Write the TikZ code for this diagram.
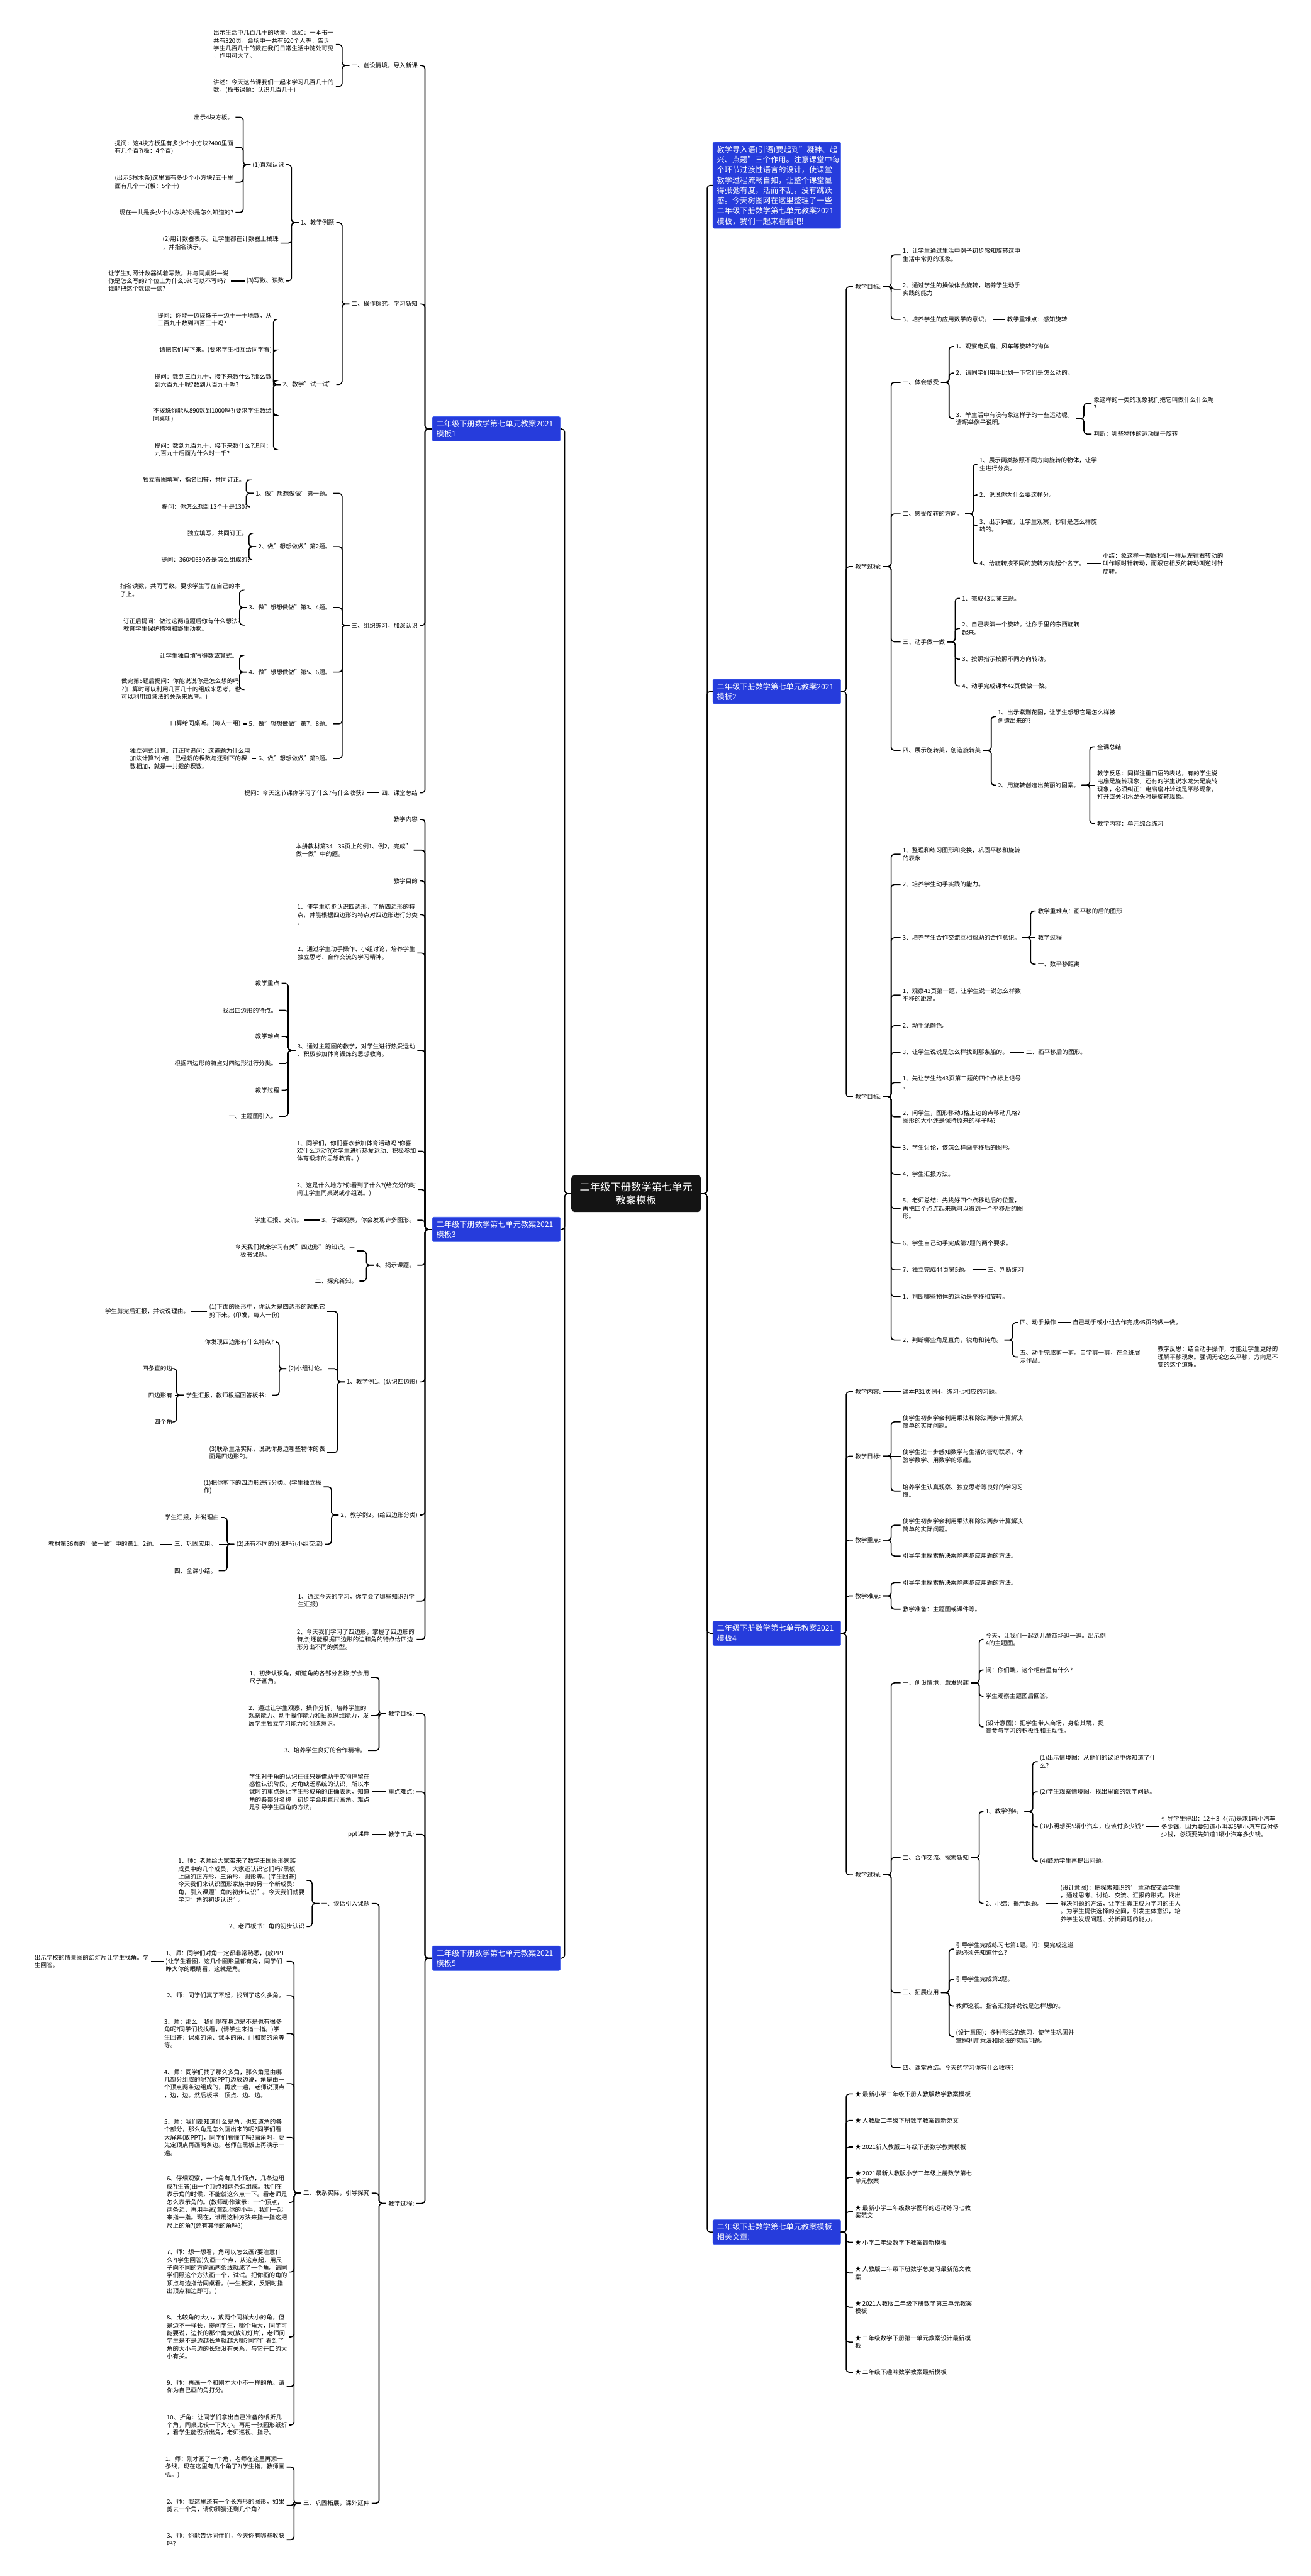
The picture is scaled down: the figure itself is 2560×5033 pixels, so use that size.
\documentclass[tikz,border=0pt]{standalone}
\usepackage{fontspec}
\setmainfont{Noto Sans CJK SC}
\definecolor{boxblue}{RGB}{38,60,220}
\definecolor{boxedge}{RGB}{70,100,240}
% 左侧：父节点在右，子节点在左
\newcommand{\lbranch}[2]{\foreach \n in {#2} \draw[lk] (#1.west) -- ++(-14,0) |- (\n.east);}
\newcommand{\lstraight}[2]{\draw[lk] (#1.west) -- (#2.east);}
% 右侧：父节点在左，子节点在右
\newcommand{\rbranch}[2]{\foreach \n in {#2} \draw[lk] (#1.east) -- ++(16,0) |- (\n.west);}
\newcommand{\rstraight}[2]{\draw[lk] (#1.east) -- (#2.west);}
\begin{document}
\begin{tikzpicture}[x=1pt, y=-1pt,
  leaf/.style={font=\fontsize{11.75}{15.2}\selectfont, align=left, inner sep=4pt},
  ln/.style={leaf, anchor=east},
  rn/.style={leaf, anchor=west},
  bbox/.style={fill=boxblue, draw=boxedge, line width=0.8pt, rounded corners=3pt, text=white,
    font=\fontsize{15}{20}\selectfont, align=left, text width=234pt, inner xsep=8pt, inner ysep=7pt, anchor=west},
  cbox/.style={fill=black!92, rounded corners=6pt, text=white, font=\fontsize{20}{26}\selectfont,
    align=center, minimum width=253pt, minimum height=72pt},
  lk/.style={line width=2pt, rounded corners=6pt}]
\fill[white] (0,0) rectangle (2560,5033);
\useasboundingbox (0,0) rectangle (2560,5033);

% 中心
\node[cbox] (ctr) at (1242.5,2332) {二年级下册数学第七单元\\教案模板};

% 一级分支
\node[bbox] (m0) at (1392,362) {教学导入语(引语)要起到"凝神、起\\兴、点题"三个作用。注意课堂中每\\个环节过渡性语言的设计，使课堂\\教学过程流畅自如，让整个课堂显\\得张弛有度，活而不乱，没有跳跃\\感。今天树图网在这里整理了一些\\二年级下册数学第七单元教案2021\\模板，我们一起来看看吧!};
\node[bbox] (m1) at (844,838) {二年级下册数学第七单元教案2021\\模板1};
\node[bbox] (m2) at (1392,1351) {二年级下册数学第七单元教案2021\\模板2};
\node[bbox] (m3) at (844,2402) {二年级下册数学第七单元教案2021\\模板3};
\node[bbox] (m4) at (1392,3191) {二年级下册数学第七单元教案2021\\模板4};
\node[bbox] (m5) at (844,3826) {二年级下册数学第七单元教案2021\\模板5};
\node[bbox] (m6) at (1392,4361) {二年级下册数学第七单元教案模板\\相关文章:};
\foreach \n in {m1,m3,m5} \draw[lk] (ctr.west) -- ++(-13,0) |- (\n.east);
\foreach \n in {m0,m2,m4,m6} \draw[lk] (ctr.east) -- ++(12,0) |- (\n.west);

% 模板1
\node[ln] (p1a) at (820,128) {一、创设情境，导入新课};
\node[ln] (p1a1) at (656,87) {出示生活中几百几十的场景，比如：一本书一\\共有320页，会场中一共有920个人等，告诉\\学生几百几十的数在我们日常生活中随处可见\\，作用可大了。};
\node[ln] (p1a2) at (656,169) {讲述：今天这节课我们一起来学习几百几十的\\数。(板书课题：认识几百几十)};
\node[ln] (p1b) at (820,594) {二、操作探究，学习新知};
\node[ln] (p1b1) at (657,435) {1、教学例题};
\node[ln] (p1b1a) at (559,322) {(1)直观认识};
\node[ln] (p1b1a1) at (460,229) {出示4块方板。};
\node[ln] (p1b1a2) at (460,288) {提问：这4块方板里有多少个小方块?400里面\\有几个百?(板：4个百)};
\node[ln] (p1b1a3) at (460,356) {(出示5根木条)这里面有多少个小方块?五十里\\面有几个十?(板：5个十)};
\node[ln] (p1b1a4) at (460,415) {现在一共是多少个小方块?你是怎么知道的?};
\node[ln] (p1b1b) at (548,475) {(2)用计数器表示。让学生都在计数器上拨珠\\，并指名演示。};
\node[ln] (p1b1c) at (559,549) {(3)写数、读数};
\node[ln] (p1b1c1) at (451,549) {让学生对照计数器试着写数，并与同桌说一说\\你是怎么写的?个位上为什么0?0可以不写吗?\\谁能把这个数读一读?};
\node[ln] (p1b2) at (657,751) {2、教学"试一试"};
\node[ln] (p1b2a) at (535,624) {提问：你能一边拨珠子一边十一十地数，从\\三百九十数到四百三十吗?};
\node[ln] (p1b2b) at (535,684) {请把它们写下来。(要求学生相互给同学看)};
\node[ln] (p1b2c) at (535,744) {提问：数到三百九十，接下来数什么?那么数\\到六百九十呢?数到八百九十呢?};
\node[ln] (p1b2d) at (535,811) {不拨珠你能从890数到1000吗?(要求学生数给\\同桌听)};
\node[ln] (p1b2e) at (535,878) {提问：数到九百九十，接下来数什么?追问：\\九百九十后面为什么时一千?};
\node[ln] (p1c) at (820,1222) {三、组织练习，加深认识};
\node[ln] (p1c1) at (651,964) {1、做"想想做做"第一题。};
\node[ln] (p1c1a) at (483,938) {独立看图填写，指名回答，共同订正。};
\node[ln] (p1c1b) at (488,990) {提问：你怎么想到13个十是130?};
\node[ln] (p1c2) at (651,1068) {2、做"想想做做"第2题。};
\node[ln] (p1c2a) at (488,1042) {独立填写，共同订正。};
\node[ln] (p1c2b) at (493,1094) {提问：360和630各是怎么组成的?};
\node[ln] (p1c3) at (651,1187) {3、做"想想做做"第3、4题。};
\node[ln] (p1c3a) at (474,1153) {指名读数，共同写数。要求学生写在自己的本\\子上。};
\node[ln] (p1c3b) at (474,1221) {订正后提问：做过这两道题后你有什么想法?\\教育学生保护植物和野生动物。};
\node[ln] (p1c4) at (651,1313) {4、做"想想做做"第5、6题。};
\node[ln] (p1c4a) at (469,1281) {让学生独自填写得数或算式。};
\node[ln] (p1c4b) at (474,1347) {做完第5题后提问：你能说说你是怎么想的吗\\?(口算时可以利用几百几十的组成来思考，也\\可以利用加减法的关系来思考。)};
\node[ln] (p1c5) at (651,1414) {5、做"想想做做"第7、8题。};
\node[ln] (p1c5a) at (474,1414) {口算给同桌听。(每人一组)};
\node[ln] (p1c6) at (651,1482) {6、做"想想做做"第9题。};
\node[ln] (p1c6a) at (493,1482) {独立列式计算。订正时追问：这道题为什么用\\加法计算?小结：已经栽的棵数与还剩下的棵\\数相加，就是一共栽的棵数。};
\node[ln] (p1d) at (820,1549) {四、课堂总结};
\node[ln] (p1d1) at (716,1549) {提问：今天这节课你学习了什么?有什么收获?};
\lbranch{m1}{p1a,p1b,p1c,p1d}
\lbranch{p1a}{p1a1,p1a2}
\lbranch{p1b}{p1b1,p1b2}
\lbranch{p1b1}{p1b1a,p1b1b,p1b1c}
\lbranch{p1b1a}{p1b1a1,p1b1a2,p1b1a3,p1b1a4}
\lstraight{p1b1c}{p1b1c1}
\lbranch{p1b2}{p1b2a,p1b2b,p1b2c,p1b2d,p1b2e}
\lbranch{p1c}{p1c1,p1c2,p1c3,p1c4,p1c5,p1c6}
\lbranch{p1c1}{p1c1a,p1c1b}
\lbranch{p1c2}{p1c2a,p1c2b}
\lbranch{p1c3}{p1c3a,p1c3b}
\lbranch{p1c4}{p1c4a,p1c4b}
\lstraight{p1c5}{p1c5a}
\lstraight{p1c6}{p1c6a}
\lstraight{p1d}{p1d1}

% 模板3
\node[ln] (p3a) at (820,1601) {教学内容};
\node[ln] (p3b) at (808,1661) {本册教材第34—36页上的例1、例2，完成"\\做一做"中的题。};
\node[ln] (p3c) at (820,1721) {教学目的};
\node[ln] (p3d) at (820,1787) {1、使学生初步认识四边形，了解四边形的特\\点，并能根据四边形的特点对四边形进行分类\\。};
\node[ln] (p3e) at (815,1862) {2、通过学生动手操作、小组讨论，培养学生\\独立思考、合作交流的学习精神。};
\node[ln] (p3f) at (815,2052) {3、通过主题图的教学，对学生进行热爱运动\\、积极参加体育锻炼的思想教育。};
\node[ln] (p3f1) at (550,1921) {教学重点};
\node[ln] (p3f2) at (545,1974) {找出四边形的特点。};
\node[ln] (p3f3) at (550,2025) {教学难点};
\node[ln] (p3f4) at (545,2078) {根据四边形的特点对四边形进行分类。};
\node[ln] (p3f5) at (550,2130) {教学过程};
\node[ln] (p3f6) at (545,2181) {一、主题图引入。};
\node[ln] (p3g) at (817,2249) {1、同学们，你们喜欢参加体育活动吗?你喜\\欢什么运动?(对学生进行热爱运动、积极参加\\体育锻炼的思想教育。)};
\node[ln] (p3h) at (817,2324) {2、这是什么地方?你看到了什么?(给充分的时\\间让学生同桌说或小组说。)};
\node[ln] (p3i) at (815,2384) {3、仔细观察，你会发现许多图形。};
\node[ln] (p3i1) at (595,2384) {学生汇报、交流。};
\node[ln] (p3j) at (815,2472) {4、揭示课题。};
\node[ln] (p3j1) at (697,2444) {今天我们就来学习有关"四边形"的知识。—\\—板书课题。};
\node[ln] (p3j2) at (702,2503) {二、探究新知。};
\node[ln] (p3k) at (820,2700) {1、教学例1。(认识四边形)};
\node[ln] (p3k1) at (639,2562) {(1)下面的图形中，你认为是四边形的就把它\\剪下来。(印发，每人一份)};
\node[ln] (p3k1a) at (374,2562) {学生剪完后汇报，并说说理由。};
\node[ln] (p3k2) at (641,2674) {(2)小组讨论。};
\node[ln] (p3k2a) at (539,2622) {你发现四边形有什么特点?};
\node[ln] (p3k2b) at (532,2726) {学生汇报，教师根据回答板书：};
\node[ln] (p3k2b1) at (341,2674) {四条直的边};
\node[ln] (p3k2b2) at (341,2726) {四边形有};
\node[ln] (p3k2b3) at (341,2778) {四个角};
\node[ln] (p3k3) at (639,2838) {(3)联系生活实际，说说你身边哪些物体的表\\面是四边形的。};
\node[ln] (p3l) at (820,2960) {2、教学例2。(给四边形分类)};
\node[ln] (p3l1) at (632,2905) {(1)把你剪下的四边形进行分类。(学生独立操\\作)};
\node[ln] (p3l2) at (635,3017) {(2)还有不同的分法吗?(小组交流)};
\node[ln] (p3l2a) at (432,2965) {学生汇报，并说理由};
\node[ln] (p3l2b) at (427,3017) {三、巩固应用。};
\node[ln] (p3l2b1) at (313,3017) {教材第36页的"做一做"中的第1、2题。};
\node[ln] (p3l2c) at (427,3069) {四、全课小结。};
\node[ln] (p3m) at (814,3128) {1、通过今天的学习，你学会了哪些知识?(学\\生汇报)};
\node[ln] (p3n) at (814,3203) {2、今天我们学习了四边形，掌握了四边形的\\特点;还能根据四边形的边和角的特点给四边\\形分出不同的类型。};
\lbranch{m3}{p3a,p3b,p3c,p3d,p3e,p3f,p3g,p3h,p3i,p3j,p3k,p3l,p3m,p3n}
\lbranch{p3f}{p3f1,p3f2,p3f3,p3f4,p3f5,p3f6}
\lstraight{p3i}{p3i1}
\lbranch{p3j}{p3j1,p3j2}
\lbranch{p3k}{p3k1,p3k2,p3k3}
\lstraight{p3k1}{p3k1a}
\lbranch{p3k2}{p3k2a,p3k2b}
\lbranch{p3k2b}{p3k2b1,p3k2b3}
\lstraight{p3k2b}{p3k2b2}
\lbranch{p3l}{p3l1,p3l2}
\lbranch{p3l2}{p3l2a,p3l2c}
\lstraight{p3l2}{p3l2b}
\lstraight{p3l2b}{p3l2b1}

% 模板5
\node[ln] (p5a) at (813,3348) {教学目标:};
\node[ln] (p5a1) at (725,3277) {1、初步认识角，知道角的各部分名称;学会用\\尺子画角。};
\node[ln] (p5a2) at (725,3352) {2、通过让学生观察、操作分析，培养学生的\\观察能力、动手操作能力和抽象思维能力，发\\展学生独立学习能力和创造意识。};
\node[ln] (p5a3) at (719,3420) {3、培养学生良好的合作精神。};
\node[ln] (p5b) at (813,3501) {重点难点:};
\node[ln] (p5b1) at (726,3501) {学生对于角的认识往往只是借助于实物停留在\\感性认识阶段，对角缺乏系统的认识，所以本\\课时的重点是让学生形成角的正确表象，知道\\角的各部分名称，初步学会用直尺画角。难点\\是引导学生画角的方法。};
\node[ln] (p5c) at (813,3584) {教学工具:};
\node[ln] (p5c1) at (726,3584) {ppt课件};
\node[ln] (p5d) at (813,4305) {教学过程:};
\node[ln] (p5d1) at (726,3719) {一、谈话引入课题};
\node[ln] (p5d1a) at (599,3674) {1、师：老师给大家带来了数学王国图形家族\\成员中的几个成员，大家还认识它们吗?黑板\\上画的正方形，三角形，圆形等。(学生回答)\\今天我们来认识图形家族中的另一个新成员：\\角，引入课题"角的初步认识"。今天我们就要\\学习"角的初步认识"。};
\node[ln] (p5d1b) at (599,3764) {2、老师板书：角的初步认识};
\node[ln] (p5d2) at (726,4285) {二、联系实际，引导探究};
\node[ln] (p5d2a) at (560,3832) {1、师：同学们对角一定都非常熟悉，(放PPT\\)让学生看图，这几个图形里都有角，同学们\\睁大你的眼睛看，这就是角。};
\node[ln] (p5d2a1) at (295,3832) {出示学校的情景图的幻灯片让学生找角。学\\生回答。};
\node[ln] (p5d2b) at (560,3899) {2、师：同学们真了不起，找到了这么多角。};
\node[ln] (p5d2c) at (560,3973) {3、师：那么，我们现在身边是不是也有很多\\角呢?同学们找找看，(请学生来指一指。)学\\生回答：课桌的角、课本的角、门和窗的角等\\等。};
\node[ln] (p5d2d) at (560,4071) {4、师：同学们找了那么多角，那么角是由哪\\几部分组成的呢?(放PPT)边放边说，角是由一\\个顶点两条边组成的，再放一遍，老师说顶点\\，边，边。然后板书：顶点、边、边。};
\node[ln] (p5d2e) at (560,4176) {5、师：我们都知道什么是角，也知道角的各\\个部分，那么角是怎么画出来的呢?同学们看\\大屏幕(放PPT)，同学们看懂了吗?画角时，要\\先定顶点再画两条边。老师在黑板上再演示一\\遍。};
\node[ln] (p5d2f) at (565,4303) {6、仔细观察，一个角有几个顶点，几条边组\\成?(生答)由一个顶点和两条边组成。我们在\\表示角的时候，不能就这么点一下。看老师是\\怎么表示角的。(教师动作演示：一个顶点，\\两条边，再用手画)拿起你的小手，我们一起\\来指一指。现在，谁用这种方法来指一指这把\\尺上的角?(还有其他的角吗?)};
\node[ln] (p5d2g) at (565,4439) {7、师：想一想看，角可以怎么画?要注意什\\么?(学生回答)先画一个点，从这点起，用尺\\子向不同的方向画两条线就成了一个角。请同\\学们照这个方法画一个，试试。把你画的角的\\顶点与边指给同桌看。(一生板演，反馈时指\\出顶点和边即可。)};
\node[ln] (p5d2h) at (565,4566) {8、比较角的大小，放两个同样大小的角，但\\是边不一样长，提问学生，哪个角大，同学可\\能要说，边长的那个角大(放幻灯片)，老师问\\学生是不是边越长角就越大哪?同学们看到了\\角的大小与边的长短没有关系，与它开口的大\\小有关。};
\node[ln] (p5d2i) at (560,4663) {9、师：再画一个和刚才大小不一样的角。请\\你为自己画的角打分。};
\node[ln] (p5d2j) at (565,4738) {10、折角：让同学们拿出自己准备的纸折几\\个角，同桌比较一下大小。再用一张圆形纸折\\，看学生能否折出角，老师巡视、指导。};
\node[ln] (p5d3) at (726,4891) {三、巩固拓展，课外延伸};
\node[ln] (p5d3a) at (560,4820) {1、师：刚才画了一个角，老师在这里再添一\\条线，现在这里有几个角了?(学生指，教师画\\弧。)};
\node[ln] (p5d3b) at (560,4895) {2、师：我这里还有一个长方形的图形，如果\\剪去一个角，请你猜猜还剩几个角?};
\node[ln] (p5d3c) at (560,4962) {3、师：你能告诉同伴们，今天你有哪些收获\\吗?};
\lbranch{m5}{p5a,p5b,p5c,p5d}
\lbranch{p5a}{p5a1,p5a2,p5a3}
\lstraight{p5b}{p5b1}
\lstraight{p5c}{p5c1}
\lbranch{p5d}{p5d1,p5d2,p5d3}
\lbranch{p5d1}{p5d1a,p5d1b}
\lbranch{p5d2}{p5d2a,p5d2b,p5d2c,p5d2d,p5d2e,p5d2f,p5d2g,p5d2h,p5d2i,p5d2j}
\lstraight{p5d2a}{p5d2a1}
\lbranch{p5d3}{p5d3a,p5d3b,p5d3c}

% 模板2
\node[rn] (p2a) at (1666,560) {教学目标:};
\node[rn] (p2a1) at (1759,498) {1、让学生通过生活中例子初步感知旋转这中\\生活中常见的现象。};
\node[rn] (p2a2) at (1759,565) {2、通过学生的操做体会旋转，培养学生动手\\实践的能力};
\node[rn] (p2a3) at (1759,624) {3、培养学生的应用数学的意识。};
\node[rn] (p2a3a) at (1963,624) {教学重难点：感知旋转};
\node[rn] (p2b) at (1666,1107) {教学过程:};
\node[rn] (p2b1) at (1759,747) {一、体会感受};
\node[rn] (p2b1a) at (1863,677) {1、观察电风扇、风车等旋转的物体};
\node[rn] (p2b1b) at (1863,729) {2、请同学们用手比划一下它们是怎么动的。};
\node[rn] (p2b1c) at (1863,818) {3、举生活中有没有象这样子的一些运动呢，\\请呢举例子说明。};
\node[rn] (p2b1c1) at (2132,788) {象这样的一类的现象我们把它叫做什么什么呢\\?};
\node[rn] (p2b1c2) at (2132,848) {判断：哪些物体的运动属于旋转};
\node[rn] (p2b2) at (1759,1004) {二、感受旋转的方向。};
\node[rn] (p2b2a) at (1909,907) {1、展示两类按照不同方向旋转的物体，让学\\生进行分类。};
\node[rn] (p2b2b) at (1909,967) {2、说说你为什么要这样分。};
\node[rn] (p2b2c) at (1909,1027) {3、出示钟面，让学生观察，秒针是怎么样旋\\转的。};
\node[rn] (p2b2d) at (1909,1101) {4、给旋转按不同的旋转方向起个名字。};
\node[rn] (p2b2d1) at (2150,1101) {小结：象这样一类跟秒针一样从左往右转动的\\叫作顺时针转动，而跟它相反的转动叫逆时针\\旋转。};
\node[rn] (p2b3) at (1759,1254) {三、动手做一做};
\node[rn] (p2b3a) at (1875,1169) {1、完成43页第三题。};
\node[rn] (p2b3b) at (1875,1228) {2、自己表演一个旋转。让你手里的东西旋转\\起来。};
\node[rn] (p2b3c) at (1875,1288) {3、按照指示按照不同方向转动。};
\node[rn] (p2b3d) at (1875,1340) {4、动手完成课本42页做做一做。};
\node[rn] (p2b4) at (1759,1466) {四、展示旋转美，创造旋转美};
\node[rn] (p2b4a) at (1945,1400) {1、出示紫荆花图，让学生想想它是怎么样被\\创造出来的?};
\node[rn] (p2b4b) at (1945,1534) {2、用旋转创造出美丽的图案。};
\node[rn] (p2b4b1) at (2139,1459) {全课总结};
\node[rn] (p2b4b2) at (2139,1534) {教学反思：同样注重口语的表达，有的学生说\\电扇是旋转现象，还有的学生说水龙头是旋转\\现象，必须纠正：电扇扇叶转动是平移现象，\\打开或关闭水龙头时是旋转现象。};
\node[rn] (p2b4b3) at (2139,1609) {教学内容：单元综合练习};
\node[rn] (p2c) at (1666,2143) {教学目标:};
\node[rn] (p2c1) at (1759,1669) {1、整理和练习图形和变换，巩固平移和旋转\\的表象};
\node[rn] (p2c2) at (1759,1728) {2、培养学生动手实践的能力。};
\node[rn] (p2c3) at (1759,1832) {3、培养学生合作交流互相帮助的合作意识。};
\node[rn] (p2c3a) at (2023,1780) {教学重难点：画平移的后的图形};
\node[rn] (p2c3b) at (2023,1832) {教学过程};
\node[rn] (p2c3c) at (2023,1884) {一、数平移距离};
\node[rn] (p2c4) at (1759,1944) {1、观察43页第一题，让学生说一说怎么样数\\平移的距离。};
\node[rn] (p2c5) at (1759,2004) {2、动手涂颜色。};
\node[rn] (p2c6) at (1759,2056) {3、让学生说说是怎么样找到那条船的。};
\node[rn] (p2c6a) at (2000,2056) {二、画平移后的图形。};
\node[rn] (p2c7) at (1759,2115) {1、先让学生给43页第二题的四个点标上记号\\。};
\node[rn] (p2c8) at (1759,2182) {2、问学生，图形移动3格上边的点移动几格?\\图形的大小还是保持原来的样子吗?};
\node[rn] (p2c9) at (1759,2242) {3、学生讨论，该怎么样画平移后的图形。};
\node[rn] (p2c10) at (1759,2294) {4、学生汇报方法。};
\node[rn] (p2c11) at (1759,2361) {5、老师总结：先找好四个点移动后的位置，\\再把四个点连起来就可以得到一个平移后的图\\形。};
\node[rn] (p2c12) at (1759,2429) {6、学生自己动手完成第2题的两个要求。};
\node[rn] (p2c13) at (1759,2481) {7、独立完成44页第5题。};
\node[rn] (p2c13a) at (1925,2481) {三、判断练习};
\node[rn] (p2c14) at (1759,2533) {1、判断哪些物体的运动是平移和旋转。};
\node[rn] (p2c15) at (1759,2618) {2、判断哪些角是直角，锐角和钝角。};
\node[rn] (p2c15a) at (1988,2584) {四、动手操作};
\node[rn] (p2c15a1) at (2091,2584) {自己动手或小组合作完成45页的做一做。};
\node[rn] (p2c15b) at (1988,2651) {五、动手完成剪一剪。自学剪一剪，在全班展\\示作品。};
\node[rn] (p2c15b1) at (2257,2651) {教学反思：结合动手操作，才能让学生更好的\\理解平移现象。强调无论怎么平移，方向是不\\变的这个道理。};
\foreach \n in {p2a,p2b,p2c} \draw[lk] (m2.east) -- ++(10,0) |- (\n.west);
\rbranch{p2a}{p2a1,p2a2,p2a3}
\rstraight{p2a3}{p2a3a}
\rbranch{p2b}{p2b1,p2b2,p2b3,p2b4}
\rbranch{p2b1}{p2b1a,p2b1b,p2b1c}
\rbranch{p2b1c}{p2b1c1,p2b1c2}
\rbranch{p2b2}{p2b2a,p2b2b,p2b2c,p2b2d}
\rstraight{p2b2d}{p2b2d1}
\rbranch{p2b3}{p2b3a,p2b3b,p2b3c,p2b3d}
\rbranch{p2b4}{p2b4a,p2b4b}
\rbranch{p2b4b}{p2b4b1,p2b4b3}
\rstraight{p2b4b}{p2b4b2}
\rbranch{p2c}{p2c1,p2c2,p2c3,p2c4,p2c5,p2c6,p2c7,p2c8,p2c9,p2c10,p2c11,p2c12,p2c13,p2c14,p2c15}
\rbranch{p2c3}{p2c3a,p2c3c}
\rstraight{p2c3}{p2c3b}
\rstraight{p2c6}{p2c6a}
\rstraight{p2c13}{p2c13a}
\rbranch{p2c15}{p2c15a,p2c15b}
\rstraight{p2c15a}{p2c15a1}
\rstraight{p2c15b}{p2c15b1}

% 模板4
\node[rn] (p4a) at (1666,2719) {教学内容:};
\node[rn] (p4a1) at (1759,2719) {课本P31页例4，练习七相应的习题。};
\node[rn] (p4b) at (1666,2845) {教学目标:};
\node[rn] (p4b1) at (1759,2778) {使学生初步学会利用乘法和除法两步计算解决\\简单的实际问题。};
\node[rn] (p4b2) at (1759,2845) {使学生进一步感知数学与生活的密切联系，体\\验学数学、用数学的乐趣。};
\node[rn] (p4b3) at (1759,2913) {培养学生认真观察、独立思考等良好的学习习\\惯。};
\node[rn] (p4c) at (1666,3009) {教学重点:};
\node[rn] (p4c1) at (1759,2980) {使学生初步学会利用乘法和除法两步计算解决\\简单的实际问题。};
\node[rn] (p4c2) at (1759,3040) {引导学生探索解决乘除两步应用题的方法。};
\node[rn] (p4d) at (1666,3118) {教学难点:};
\node[rn] (p4d1) at (1759,3092) {引导学生探索解决乘除两步应用题的方法。};
\node[rn] (p4d2) at (1759,3144) {教学准备：主题图或课件等。};
\node[rn] (p4e) at (1666,3663) {教学过程:};
\node[rn] (p4e1) at (1759,3288) {一、创设情境，激发兴趣};
\node[rn] (p4e1a) at (1921,3203) {今天，让我们一起到儿童商场逛一逛。出示例\\4的主题图。};
\node[rn] (p4e1b) at (1921,3263) {问：你们瞧，这个柜台里有什么?};
\node[rn] (p4e1c) at (1921,3314) {学生观察主题图后回答。};
\node[rn] (p4e1d) at (1921,3374) {(设计意图)：把学生带入商场，身临其境，提\\高参与学习的积极性和主动性。};
\node[rn] (p4e2) at (1759,3629) {二、合作交流、探索新知};
\node[rn] (p4e2a) at (1921,3539) {1、教学例4。};
\node[rn] (p4e2a1) at (2027,3442) {(1)出示情境图：从他们的议论中你知道了什\\么?};
\node[rn] (p4e2a2) at (2027,3501) {(2)学生观察情境图，找出里面的数学问题。};
\node[rn] (p4e2a3) at (2027,3569) {(3)小明想买5辆小汽车，应该付多少钱?};
\node[rn] (p4e2a3a) at (2264,3569) {引导学生得出：12÷3=4(元)是求1辆小汽车\\多少钱。因为要知道小明买5辆小汽车应付多\\少钱，必须要先知道1辆小汽车多少钱。};
\node[rn] (p4e2a4) at (2027,3636) {(4)鼓励学生再提出问题。};
\node[rn] (p4e2b) at (1921,3719) {2、小结：揭示课题。};
\node[rn] (p4e2b1) at (2067,3719) {(设计意图)：把探索知识的’ 主动权交给学生\\，通过思考、讨论、交流、汇报的形式，找出\\解决问题的方法，让学生真正成为学习的主人\\。为学生提供选择的空间，引发主体意识，培\\养学生发现问题、分析问题的能力。};
\node[rn] (p4e3) at (1759,3893) {三、拓展应用};
\node[rn] (p4e3a) at (1863,3808) {引导学生完成练习七第1题。问：要完成这道\\题必须先知道什么?};
\node[rn] (p4e3b) at (1863,3867) {引导学生完成第2题。};
\node[rn] (p4e3c) at (1863,3919) {教师巡视。指名汇报并说说是怎样想的。};
\node[rn] (p4e3d) at (1863,3979) {(设计意图)：多种形式的练习，使学生巩固并\\掌握利用乘法和除法的实际问题。};
\node[rn] (p4e4) at (1759,4040) {四、课堂总结。今天的学习你有什么收获?};
\foreach \n in {p4a,p4b,p4c,p4d,p4e} \draw[lk] (m4.east) -- ++(10,0) |- (\n.west);
\rstraight{p4a}{p4a1}
\rbranch{p4b}{p4b1,p4b3}
\rstraight{p4b}{p4b2}
\rbranch{p4c}{p4c1,p4c2}
\rbranch{p4d}{p4d1,p4d2}
\rbranch{p4e}{p4e1,p4e2,p4e3,p4e4}
\rbranch{p4e1}{p4e1a,p4e1b,p4e1c,p4e1d}
\rbranch{p4e2}{p4e2a,p4e2b}
\rbranch{p4e2a}{p4e2a1,p4e2a2,p4e2a3,p4e2a4}
\rstraight{p4e2a3}{p4e2a3a}
\rstraight{p4e2b}{p4e2b1}
\rbranch{p4e3}{p4e3a,p4e3b,p4e3c,p4e3d}

% 相关文章
\node[rn] (r1) at (1666,4091) {★ 最新小学二年级下册人教版数学教案模板};
\node[rn] (r2) at (1666,4143) {★ 人教版二年级下册数学教案最新范文};
\node[rn] (r3) at (1666,4195) {★ 2021新人教版二年级下册数学教案模板};
\node[rn] (r4) at (1666,4254) {★ 2021最新人教版小学二年级上册数学第七\\单元教案};
\node[rn] (r5) at (1666,4321) {★ 最新小学二年级数学图形的运动练习七教\\案范文};
\node[rn] (r6) at (1666,4381) {★ 小学二年级数学下教案最新模板};
\node[rn] (r7) at (1666,4441) {★ 人教版二年级下册数学总复习最新范文教\\案};
\node[rn] (r8) at (1666,4508) {★ 2021人教版二年级下册数学第三单元教案\\模板};
\node[rn] (r9) at (1666,4576) {★ 二年级数学下册第一单元教案设计最新模\\板};
\node[rn] (r10) at (1666,4635) {★ 二年级下趣味数学教案最新模板};
\foreach \n in {r1,r2,r3,r4,r5,r6,r7,r8,r9,r10} \draw[lk] (m6.east) -- ++(10,0) |- (\n.west);
\end{tikzpicture}
\end{document}
